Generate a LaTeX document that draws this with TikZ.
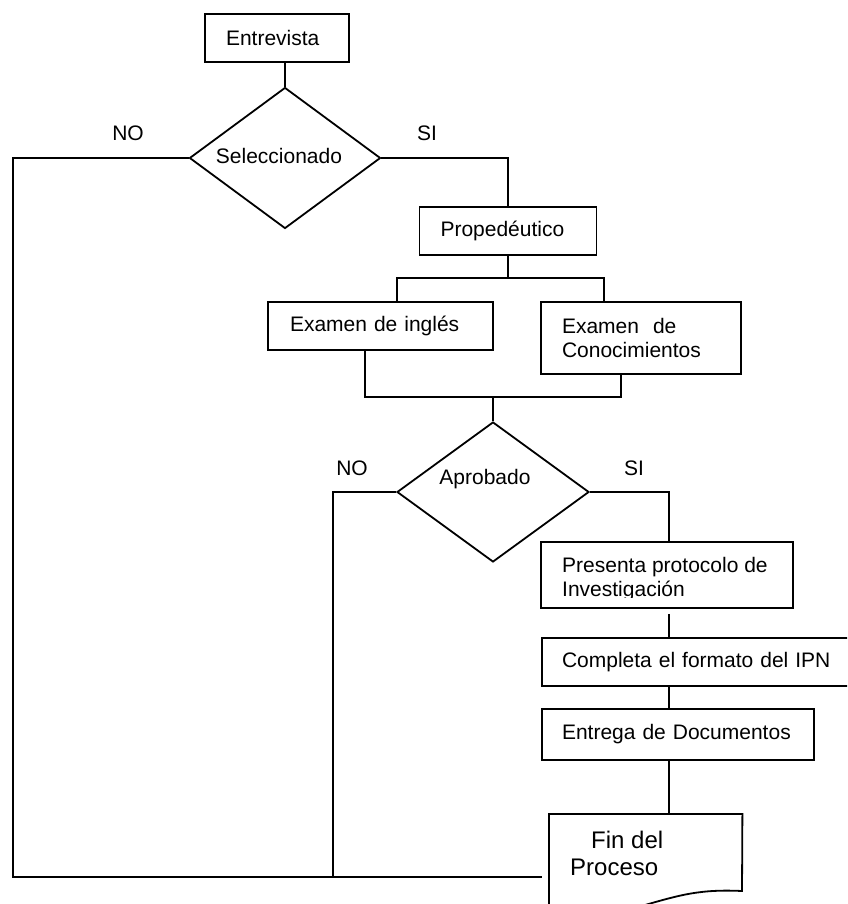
\documentclass[tikz,border=0pt]{standalone}
\usepackage{fontspec}
\setmainfont{Liberation Sans}
\usetikzlibrary{shapes.geometric}
\newcommand\fsA{\fontsize{21}{24}\selectfont}
\newcommand\fsB{\fontsize{24}{27}\selectfont}
\begin{document}
\begin{tikzpicture}[x=1pt,y=-1pt,
  box/.style={draw, line width=1.8pt, rectangle, inner ysep=0pt, align=left, font=\fsA},
  dia/.style={draw, diamond, line width=1.8pt, inner sep=0pt},
  lbl/.style={inner sep=0pt, font=\fsA},
  conn/.style={line width=1.4pt},
  docsh/.style={draw, line width=1.8pt}]
\useasboundingbox (0,0) rectangle (847,904);
\clip (0,0) rectangle (847,904);
% nodes
\node[box, minimum height=48pt, text width=102pt, inner xsep=21pt] (entre) at (277,38) {Entrevista};
\node[dia, minimum width=191pt, minimum height=141pt] (sel) at (285,158) {};
\node[lbl] (selt) at (279,156) {Seleccionado};
\node[box, minimum height=48pt, text width=135pt, inner xsep=21pt] (prop) at (508,231) {Propedéutico};
\node[box, minimum height=48pt, text width=181pt, inner xsep=22pt] (ingl) at (380.5,326) {Examen de inglés};
\node[box, minimum height=72pt, text width=158pt, inner xsep=21pt] (cono) at (641,338) {Examen~~de\\Conocimientos};
\node[dia, minimum width=192pt, minimum height=140pt] (apr) at (493,492) {};
\node[lbl] (aprt) at (485,479) {Aprobado};
\node[box, minimum width=252pt, minimum height=66pt] (pres) at (667,575) {};
\begin{scope}
  \clip (541,540) rectangle (795,597);
  \node[lbl, align=left, anchor=west] (prest) at (562,579) {Presenta protocolo de\\Investigación};
\end{scope}
\node[box, minimum height=48pt, text width=272pt, inner xsep=20pt] (comp) at (698,662) {Completa el formato del IPN};
\node[box, minimum height=51pt, text width=232pt, inner xsep=20pt] (entr) at (678,734.5) {Entrega de Documentos};
\node[minimum width=193pt, minimum height=77pt, inner sep=0pt, anchor=north west] (fin) at (549,814) {};
\draw[docsh] (549,930) -- (fin.north west) -- (fin.north east) -- (742,891)
  .. controls (700,889) and (680,895) .. (645,905)
  .. controls (610,915) and (580,918) .. (549,912);
\node[lbl, font=\fsB, align=left, anchor=west] (fint) at (570,853.5) {\hspace*{21pt}Fin del\\Proceso};
% labels
\node[lbl] (no1) at (128,133) {NO};
\node[lbl] (si1) at (427,133) {SI};
\node[lbl] (no2) at (352,468) {NO};
\node[lbl] (si2) at (634,468) {SI};
% connectors
\coordinate (noA) at (13,158);
\coordinate (botA) at (13,877);
\coordinate (botB) at (542,877);
\coordinate (siA) at (508,158);
\coordinate (barL) at (397,278);
\coordinate (barR) at (604,278);
\coordinate (lowL) at (365,397);
\coordinate (lowR) at (621,397);
\coordinate (noB) at (333,492);
\coordinate (siB) at (669,492);
\draw[conn] (entre.south -| sel.north) -- (sel.north);
\draw[conn] (sel.west) -- (noA) -- (botA) -- (botB);
\draw[conn] (sel.east) -- (siA) -- (prop.north);
\draw[conn] (prop.south) -- (prop.south |- barL);
\draw[conn] (barL |- ingl.north) -- (barL) -- (barR) -- (barR |- cono.north);
\draw[conn] (lowL |- ingl.south) -- (lowL) -- (lowR) -- (lowR |- cono.south);
\draw[conn] (apr.north |- lowL) -- (apr.north);
\draw[conn] (apr.west) -- (noB) -- (noB |- botA);
\draw[conn] (apr.east) -- (siB) -- (siB |- pres.north);
\draw[conn, shorten <=5pt] (pres.south -| siB) -- (comp.north -| siB);
\draw[conn] (comp.south -| siB) -- (entr.north -| siB);
\draw[conn] (entr.south -| siB) -- (fin.north -| siB);
\end{tikzpicture}
\end{document}
